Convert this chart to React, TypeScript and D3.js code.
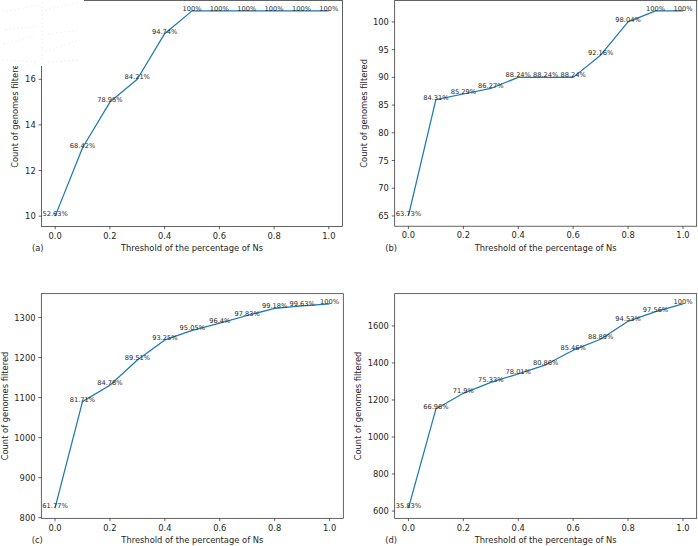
import React from "react";
import * as d3 from "d3";

const thresholds = [0, 0.1, 0.2, 0.3, 0.4, 0.5, 0.6, 0.7, 0.8, 0.9, 1.0];
const xTicks = [0, 0.2, 0.4, 0.6, 0.8, 1.0];

const countsA = [10, 13, 15, 16, 18, 19, 19, 19, 19, 19, 19];
const labelsA = ["52.63%", "68.42%", "78.95%", "84.21%", "94.74%", "100%", "100%", "100%", "100%", "100%", "100%"];
const yTicksA = [10, 12, 14, 16, 18];

const countsB = [65, 86, 87, 88, 90, 90, 90, 94, 100, 102, 102];
const labelsB = ["63.73%", "84.31%", "85.29%", "86.27%", "88.24%", "88.24%", "88.24%", "92.16%", "98.04%", "100%", "100%"];
const yTicksB = [65, 70, 75, 80, 85, 90, 95, 100];

const countsC = [824, 1090, 1131, 1194, 1244, 1268, 1286, 1305, 1323, 1329, 1334];
const labelsC = ["61.77%", "81.71%", "84.78%", "89.51%", "93.25%", "95.05%", "96.4%", "97.83%", "99.18%", "99.63%", "100%"];
const yTicksC = [800, 900, 1000, 1100, 1200, 1300];

const countsD = [616, 1151, 1236, 1295, 1341, 1390, 1469, 1528, 1625, 1677, 1719];
const labelsD = ["35.83%", "66.96%", "71.9%", "75.33%", "78.01%", "80.86%", "85.46%", "88.89%", "94.53%", "97.56%", "100%"];
const yTicksD = [600, 800, 1000, 1200, 1400, 1600];

const xLabel = "Threshold of the percentage of Ns";
const yLabel = "Count of genomes filtered";

const FONT = "DejaVu Sans, sans-serif";
const TXT = "#262626";

type PanelProps = {
  left: number;
  right: number;
  top: number;
  bottom: number;
  counts: number[];
  labels: string[];
  yTicks: number[];
  yLabelOffset: number;
  letter: string;
};

function Panel(p: PanelProps) {
  const [x0, x1] = d3.extent(thresholds) as [number, number];
  const xm = (x1 - x0) * 0.05;
  const x = d3.scaleLinear().domain([x0 - xm, x1 + xm]).range([p.left, p.right]);
  const [y0, y1] = d3.extent(p.counts) as [number, number];
  const ym = (y1 - y0) * 0.05;
  const y = d3.scaleLinear().domain([y0 - ym, y1 + ym]).range([p.bottom, p.top]);
  const line = d3
    .line<number>()
    .x((_, i) => x(thresholds[i]))
    .y((d) => y(d));
  const tickLen = 2.9;
  const pad = 2.9;
  const fs = 8.33;
  return (
    <g>
      <path d={line(p.counts) || ""} fill="none" stroke="#1f77b4" strokeWidth={1.25} strokeLinejoin="round" />
      {p.counts.map((c, i) => (
        <text
          key={"l" + i}
          x={x(thresholds[i])}
          y={y(c)}
          fontSize={6.67}
          fontFamily={FONT}
          fill={TXT}
          textAnchor="middle"
        >
          {p.labels[i]}
        </text>
      ))}
      <rect
        x={p.left}
        y={p.top}
        width={p.right - p.left}
        height={p.bottom - p.top}
        fill="none"
        stroke="#222"
        strokeWidth={0.7}
      />
      {xTicks.map((t) => (
        <g key={"xt" + t}>
          <line x1={x(t)} x2={x(t)} y1={p.bottom} y2={p.bottom + tickLen} stroke="#222" strokeWidth={0.7} />
          <text
            x={x(t)}
            y={p.bottom + tickLen + pad + 6.4}
            fontSize={fs}
            fontFamily={FONT}
            fill={TXT}
            textAnchor="middle"
          >
            {t.toFixed(1)}
          </text>
        </g>
      ))}
      {p.yTicks.map((t) => (
        <g key={"yt" + t}>
          <line x1={p.left - tickLen} x2={p.left} y1={y(t)} y2={y(t)} stroke="#222" strokeWidth={0.7} />
          <text
            x={p.left - tickLen - pad}
            y={y(t)}
            fontSize={fs}
            fontFamily={FONT}
            fill={TXT}
            textAnchor="end"
            dominantBaseline="central"
          >
            {t}
          </text>
        </g>
      ))}
      <text
        x={(p.left + p.right) / 2}
        y={p.bottom + 24.3}
        fontSize={fs}
        fontFamily={FONT}
        fill={TXT}
        textAnchor="middle"
      >
        {xLabel}
      </text>
      <text
        transform={`translate(${p.left + p.yLabelOffset},${(p.top + p.bottom) / 2}) rotate(-90)`}
        fontSize={fs}
        fontFamily={FONT}
        fill={TXT}
        textAnchor="middle"
        dominantBaseline="central"
      >
        {yLabel}
      </text>
      <text x={p.left - 9.5} y={p.bottom + 24.8} fontSize={fs} fontFamily={FONT} fill={TXT}>
        {p.letter}
      </text>
    </g>
  );
}

export default function App() {
  return (
    <svg
      width={698}
      height={546}
      viewBox="0 0 698 546"
      style={{ position: "absolute", left: 0, top: 0, background: "#fff" }}
    >
      <rect x={0} y={0} width={698} height={546} fill="#fff" />
      <Panel left={41.5} right={342.5} top={0.6} bottom={226.4} counts={countsA} labels={labelsA} yTicks={yTicksA} yLabelOffset={-26.5} letter="(a)" />
      <Panel left={394.7} right={696.7} top={0.6} bottom={226.2} counts={countsB} labels={labelsB} yTicks={yTicksB} yLabelOffset={-30.7} letter="(b)" />
      <Panel left={41.3} right={343.3} top={293.7} bottom={518.3} counts={countsC} labels={labelsC} yTicks={yTicksC} yLabelOffset={-36.3} letter="(c)" />
      <Panel left={394.7} right={696.7} top={293.7} bottom={518.3} counts={countsD} labels={labelsD} yTicks={yTicksD} yLabelOffset={-36.4} letter="(d)" />
      <rect x={0} y={0} width={84} height={66} fill="#fff" />
      <g stroke="#ececec" strokeWidth={0.8} strokeDasharray="2 2" fill="none">
        <path d="M2,12 L40,5 M45,10 L80,2 M5,30 L38,26 M48,34 L80,30 M3,44 L35,36 M45,52 L80,40 M2,60 L38,62 M48,62 L80,60 M42,2 L42,64" />
      </g>
    </svg>
  );
}
